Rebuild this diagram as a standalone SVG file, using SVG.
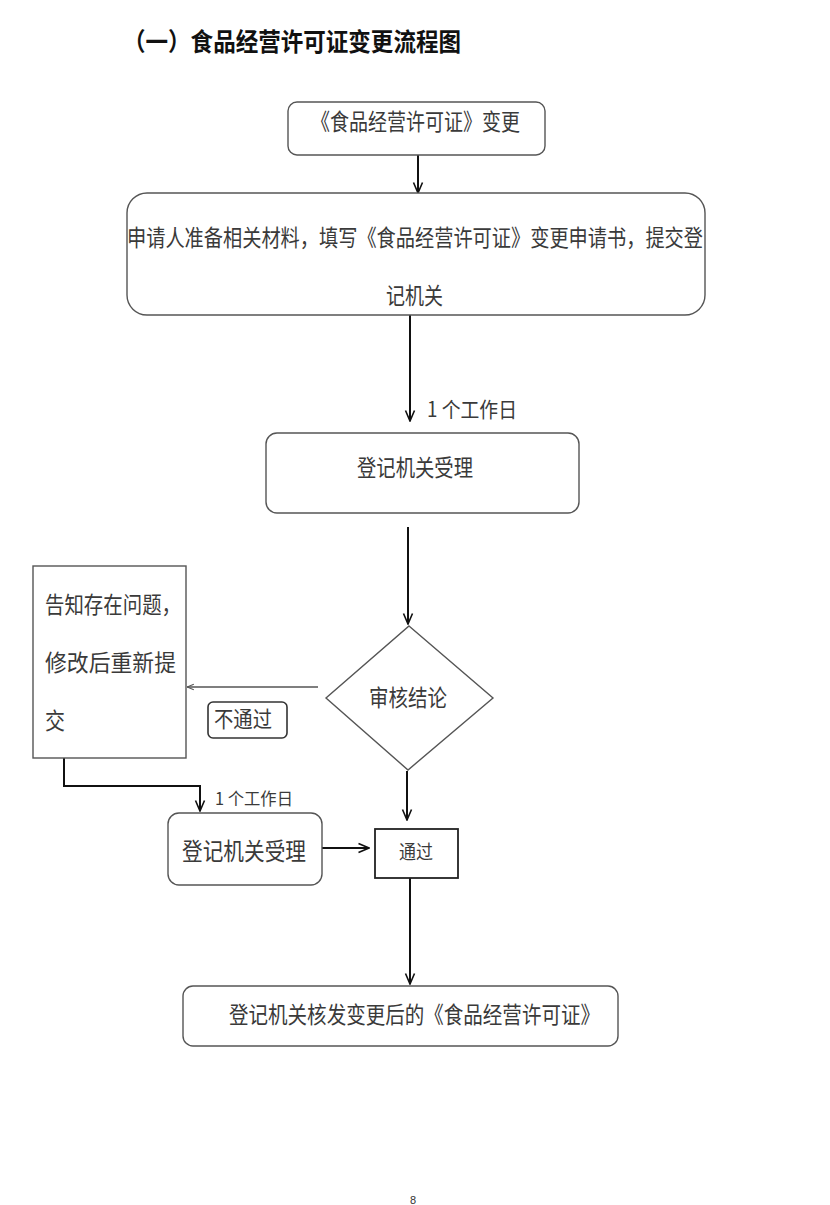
<svg xmlns="http://www.w3.org/2000/svg" width="830" height="1205" viewBox="0 0 830 1205">
<defs>
<style>
.bg{fill:#ffffff}
.box{fill:#ffffff;stroke:#555555;stroke-width:1.4}
.dark{fill:#ffffff;stroke:#222222;stroke-width:1.8}
.t{font-family:"Noto Sans CJK SC","Noto Sans",sans-serif;fill:#3a3a3a}
.title{font-family:"Noto Sans CJK SC","Noto Sans",sans-serif;font-weight:bold;fill:#111111}
.arr{fill:none;stroke:#111111;stroke-width:2}
.thin{fill:none;stroke:#555555;stroke-width:1.4}
</style>
<marker id="ah" viewBox="0 0 12 12" refX="11.5" refY="6" markerWidth="12" markerHeight="12" markerUnits="userSpaceOnUse" orient="auto">
<path d="M1,1.5 L11.5,6 L1,10.5" fill="none" stroke="#111111" stroke-width="1.6"/>
</marker>
<marker id="ahs" viewBox="0 0 10 10" refX="9.5" refY="5" markerWidth="8" markerHeight="8" markerUnits="userSpaceOnUse" orient="auto">
<path d="M1,1.5 L9.5,5 L1,8.5" fill="none" stroke="#555555" stroke-width="1.4"/>
</marker>
</defs>
<rect class="bg" x="0" y="0" width="830" height="1205"/>
<text class="title" x="123" y="51" font-size="25" textLength="338" lengthAdjust="spacingAndGlyphs">（一）食品经营许可证变更流程图</text>

<g id="connectors">
<line class="arr" x1="418" y1="155" x2="418" y2="193" marker-end="url(#ah)"/>
<line class="arr" x1="410" y1="315" x2="410" y2="421" marker-end="url(#ah)"/>
<line class="arr" x1="408" y1="527" x2="408" y2="624" marker-end="url(#ah)"/>
<line class="thin" x1="318" y1="687" x2="187" y2="687" marker-end="url(#ahs)"/>
<line class="arr" x1="407" y1="771" x2="407" y2="820" marker-end="url(#ah)"/>
<polyline class="arr" points="64,758 64,786 200,786 200,811" marker-end="url(#ah)"/>
<line class="arr" x1="322" y1="848" x2="369" y2="848" marker-end="url(#ah)"/>
<line class="arr" x1="410" y1="878" x2="410" y2="984" marker-end="url(#ah)"/>
<text class="t" x="427" y="417" font-size="21" textLength="90" lengthAdjust="spacingAndGlyphs">1 个工作日</text>
<rect x="208" y="702" width="79" height="36" rx="5" fill="#ffffff" stroke="#333333" stroke-width="1.6"/>
<text class="t" x="214" y="727" font-size="22" textLength="58" lengthAdjust="spacingAndGlyphs">不通过</text>
<text class="t" x="215" y="805" font-size="17" textLength="78" lengthAdjust="spacingAndGlyphs">1 个工作日</text>
</g>

<g id="n1">
<rect class="box" x="288" y="102" width="257" height="53" rx="9"/>
<text class="t" x="311" y="130" font-size="23" textLength="209" lengthAdjust="spacingAndGlyphs">《食品经营许可证》变更</text>
</g>
<g id="n2">
<rect class="box" x="127" y="193" width="578" height="122" rx="20"/>
<text class="t" x="127" y="246" font-size="23" textLength="576" lengthAdjust="spacingAndGlyphs">申请人准备相关材料，填写《食品经营许可证》变更申请书，提交登</text>
<text class="t" x="386" y="304" font-size="23" textLength="57" lengthAdjust="spacingAndGlyphs">记机关</text>
</g>
<g id="n3">
<rect class="box" x="266" y="433" width="313" height="80" rx="11"/>
<text class="t" x="357" y="476" font-size="23" textLength="116" lengthAdjust="spacingAndGlyphs">登记机关受理</text>
</g>
<g id="n4">
<polygon class="box" points="409,626 493,698 408,770 326,698"/>
<text class="t" x="369" y="706" font-size="23" textLength="78" lengthAdjust="spacingAndGlyphs">审核结论</text>
</g>
<g id="n5">
<rect class="box" x="33" y="566" width="153" height="192"/>
<text class="t" x="45" y="613" font-size="23" textLength="136" lengthAdjust="spacingAndGlyphs">告知存在问题，</text>
<text class="t" x="45" y="671" font-size="23" textLength="131" lengthAdjust="spacingAndGlyphs">修改后重新提</text>
<text class="t" x="45" y="729" font-size="23" textLength="20" lengthAdjust="spacingAndGlyphs">交</text>
</g>
<g id="n6">
<rect class="box" x="168" y="813" width="154" height="72" rx="11"/>
<text class="t" x="182" y="860" font-size="24" textLength="124" lengthAdjust="spacingAndGlyphs">登记机关受理</text>
</g>
<g id="n7">
<rect class="dark" x="375" y="829" width="83" height="49"/>
<text class="t" x="399" y="859" font-size="19" textLength="34" lengthAdjust="spacingAndGlyphs">通过</text>
</g>
<g id="n8">
<rect class="box" x="183" y="986" width="435" height="60" rx="10"/>
<text class="t" x="229" y="1023" font-size="23" textLength="371" lengthAdjust="spacingAndGlyphs">登记机关核发变更后的《食品经营许可证》</text>
</g>
<text x="413" y="1204" font-size="11" text-anchor="middle" font-family="Liberation Sans, sans-serif" fill="#333333">8</text>
</svg>
